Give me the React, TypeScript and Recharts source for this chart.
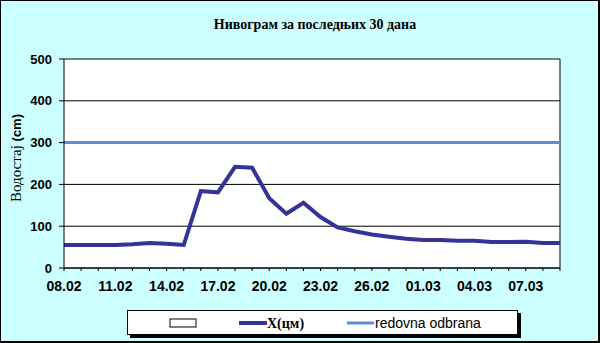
import React from 'react';
import { LineChart, Line, XAxis, YAxis, CartesianGrid, ReferenceLine, Legend } from 'recharts';

const dates = [
  '08.02', '09.02', '10.02', '11.02', '12.02', '13.02', '14.02', '15.02', '16.02', '17.02',
  '18.02', '19.02', '20.02', '21.02', '22.02', '23.02', '24.02', '25.02', '26.02', '27.02',
  '28.02', '01.03', '02.03', '03.03', '04.03', '05.03', '06.03', '07.03', '08.03', '09.03',
];

const levels = [
  55, 55, 55, 55, 57, 60, 58, 55, 184, 181,
  242, 240, 167, 130, 156, 122, 97, 88, 80, 75,
  70, 67, 67, 65, 65, 62, 62, 63, 60, 60,
];

const redovnaOdbrana = 300;
const yTicks = [0, 100, 200, 300, 400, 500];

const title = 'Нивограм за последњих 30 дана';
const seriesName = 'X(цм)';
const thresholdName = 'redovna odbrana';

const data = dates.map((d, i) => ({ date: d, level: levels[i] }));

const NAVY = '#333399';
const LIGHT_BLUE = '#5B8ED6';
const SANS = '"Liberation Sans", Arial, sans-serif';
const SERIF = '"Liberation Serif", "Times New Roman", serif';

const DateTick = ({ x, y, payload, index }: any) => {
  if (index % 3 !== 0) return null;
  return (
    <text x={x} y={y} dy={20} textAnchor="middle" fontFamily={SANS} fontWeight="bold" fontSize={14} fill="#000">
      {payload.value}
    </text>
  );
};

const LegendBox = () => (
  <div style={{ width: 391, height: 25, background: '#fff', border: '1px solid #000', boxShadow: '3px 3px 0 #000', boxSizing: 'border-box' }}>
    <svg width={389} height={23} style={{ display: 'block' }}>
      <rect x={42} y={8} width={26} height={8} fill="#fff" stroke="#000" strokeWidth={1} />
      <line x1={111} x2={139} y1={12} y2={12} stroke={NAVY} strokeWidth={4} />
      <text x={139} y={17} fontFamily={SERIF} fontWeight="bold" fontSize={14} fill="#000">{seriesName}</text>
      <line x1={219} x2={246} y1={12} y2={12} stroke={LIGHT_BLUE} strokeWidth={3} />
      <text x={247} y={17} fontFamily={SANS} fontSize={14} fill="#000">{thresholdName}</text>
    </svg>
  </div>
);

export default function App() {
  return (
    <div style={{ position: 'absolute', left: 0, top: 0, width: 600, height: 343, background: '#CCFFFF' }}>
      <LineChart width={600} height={343} data={data} margin={{ top: 59, right: 40, left: 0, bottom: 0 }}>
        <CartesianGrid vertical={false} stroke="#000" fill="#fff" fillOpacity={1} />
        <XAxis
          dataKey="date"
          interval={0}
          height={75}
          tickSize={3}
          tickMargin={0}
          tick={<DateTick />}
          axisLine={{ stroke: '#000' }}
          tickLine={{ stroke: '#000' }}
        />
        <YAxis
          domain={[0, 500]}
          ticks={yTicks}
          width={64}
          tickSize={5}
          tickMargin={7}
          axisLine={{ stroke: '#000' }}
          tickLine={{ stroke: '#000' }}
          tick={{ fill: '#000', fontFamily: SANS, fontWeight: 'bold', fontSize: 13 }}
        />
        <ReferenceLine x={dates[dates.length - 1]} stroke="#000" />
        <ReferenceLine y={redovnaOdbrana} stroke={LIGHT_BLUE} strokeWidth={3} />
        <Line
          type="linear"
          dataKey="level"
          name={seriesName}
          stroke={NAVY}
          strokeWidth={4}
          dot={false}
          isAnimationActive={false}
        />
        <Legend
          layout="horizontal"
          verticalAlign="middle"
          align="center"
          content={<LegendBox />}
          wrapperStyle={{ left: 127, top: 310, width: 391, height: 25 }}
        />
        <text x={315} y={29} textAnchor="middle" fontFamily={SERIF} fontWeight="bold" fontSize={14} fill="#000">
          {title}
        </text>
        <text transform="translate(21,158) rotate(-90)" textAnchor="middle" fill="#000">
          <tspan fontFamily={SERIF} fontSize={15}>Водостај </tspan>
          <tspan fontFamily={SANS} fontWeight="bold" fontSize={13}>(cm)</tspan>
        </text>
      </LineChart>
      <div style={{ position: 'absolute', left: 0, top: 0, width: 600, height: 343, boxSizing: 'border-box', borderStyle: 'solid', borderColor: '#000', borderWidth: '1px 2px 2px 1px', pointerEvents: 'none' }} />
    </div>
  );
}
